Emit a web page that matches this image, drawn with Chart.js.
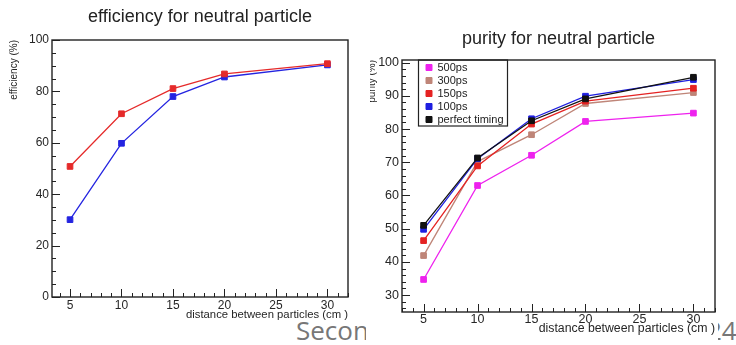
<!DOCTYPE html>
<html>
<head>
<meta charset="utf-8">
<script src="https://cdn.jsdelivr.net/npm/chart.js@4"></script>
<style>
  body { margin: 0; width: 736px; height: 345px; overflow: hidden; position: relative; background: #fff; }
  .slide { position: absolute; font-family: "Open Sans", sans-serif; font-size: 26px; line-height: 1; color: #777; z-index: 0; }
  #panel { position: absolute; left: 366px; top: 0; width: 352px; height: 345px; background: #fff; z-index: 1; }
  canvas { position: absolute; top: 0; z-index: 2; }
</style>
</head>
<body>
<div class="slide" style="left:296px; top:317px">Second</div>
<div class="slide" style="left:707px; top:317px">24</div>
<div id="panel"></div>
<canvas id="eff" width="370" height="345" style="left:0"></canvas>
<canvas id="pur" width="366" height="345" style="left:370px"></canvas>
<script>
// distance between particles (cm)
const distances = [5, 10, 15, 20, 30];

// efficiency (%)
const effRed = [50.8, 71.3, 81.1, 86.8, 90.8];
const effBlue = [30.1, 59.8, 78.0, 85.6, 90.3];

// purity (%)
const purityNames = ['500ps', '300ps', '150ps', '100ps', 'perfect timing'];
const pur500 = [34.7, 63.0, 72.1, 82.3, 84.8];
const pur300 = [41.9, 70.2, 78.3, 87.7, 91.0];
const pur150 = [46.4, 68.9, 81.5, 88.4, 92.3];
const pur100 = [49.8, 71.1, 83.1, 89.9, 94.9];
const purPerfect = [51.0, 71.3, 82.5, 89.1, 95.6];
const purityColors = ['#ee22ee', '#bf8578', '#e52222', '#1f1fe0', '#111111'];

const FONT = "'Liberation Sans', Arial, sans-serif";
const TXT = '#262626';

function points(ys) {
    return distances.map((x, i) => ({ x: x, y: ys[i] }));
}

function line(label, ys, color, order) {
    return {
        label: label,
        data: points(ys),
        borderColor: color,
        backgroundColor: color,
        borderWidth: 1.3,
        pointStyle: 'rect',
        pointRadius: 4,
        pointBorderWidth: 1,
        showLine: true,
        order: order
    };
}

// ROOT style frame with inward tick marks
const rootFrame = {
    id: 'rootFrame',
    beforeDatasetsDraw(chart, args, opts) {
        const { ctx, chartArea: a, scales: { x, y } } = chart;
        ctx.save();
        ctx.strokeStyle = '#222';
        ctx.lineWidth = 1;
        ctx.beginPath();
        for (let v = Math.ceil(x.min); v <= x.max; v += opts.xMinor) {
            const px = Math.round(x.getPixelForValue(v)) + 0.5;
            const len = v % opts.xMajor === 0 ? 8 : 4;
            ctx.moveTo(px, a.bottom);
            ctx.lineTo(px, a.bottom - len);
        }
        for (let v = Math.ceil(y.min / opts.yMinor) * opts.yMinor; v <= y.max; v += opts.yMinor) {
            const py = Math.round(y.getPixelForValue(v)) + 0.5;
            const len = v % opts.yMajor === 0 ? 8 : 4;
            ctx.moveTo(a.left, py);
            ctx.lineTo(a.left + len, py);
        }
        ctx.stroke();
        ctx.lineWidth = 1.4;
        ctx.strokeRect(a.left, a.top, a.right - a.left, a.bottom - a.top);
        ctx.restore();
    }
};

// legend box inside the purity plot
const legendBox = {
    id: 'legendBox',
    beforeDraw(chart) {
        if (!chart.legend) return;
        chart.legend.left = chart.chartArea.left + 22;
        chart.legend.top = chart.chartArea.top;
    },
    afterDraw(chart) {
        const { ctx, chartArea: a } = chart;
        ctx.save();
        ctx.strokeStyle = '#222';
        ctx.lineWidth = 1.2;
        ctx.strokeRect(a.left + 16.5, a.top, 89, 66);
        ctx.restore();
    }
};

function axes(o) {
    return {
        x: {
            type: 'linear', min: o.xMin, max: 32,
            ticks: { stepSize: 5, includeBounds: false, padding: o.xPad, color: TXT, font: { family: FONT, size: o.tickSize } },
            grid: { display: false, drawTicks: false, tickLength: 0 },
            border: { display: false },
            title: {
                display: true, text: 'distance between particles (cm )', align: 'end', color: TXT,
                font: { family: FONT, size: o.xTitleSize }, padding: { top: 0, bottom: o.xTitlePad }
            },
            afterFit: s => { s.height = 28; }
        },
        y: {
            type: 'linear', min: o.yMin, max: o.yMax,
            ticks: { stepSize: o.yStep, includeBounds: false, padding: 3, color: TXT, font: { family: FONT, size: o.tickSize } },
            grid: { display: false, drawTicks: false, tickLength: 0 },
            border: { display: false },
            title: {
                display: true, text: o.yTitle, align: 'end', color: TXT,
                font: { family: FONT, size: 10 }, padding: { top: o.yTitlePad, bottom: 0 }
            },
            afterFit: s => { s.width = o.yWidth; }
        }
    };
}

new Chart(document.getElementById('eff'), {
    type: 'scatter',
    data: {
        datasets: [
            line('red', effRed, '#e52a2a', 0),
            line('blue', effBlue, '#2424e0', 1)
        ]
    },
    options: {
        responsive: false,
        animation: false,
        devicePixelRatio: 1,
        layout: { padding: { left: 0, right: 22, top: 0, bottom: 20 } },
        scales: axes({ xMin: 3.25, xPad: 1, xTitlePad: 3.4, xTitleSize: 11.3, tickSize: 12,
                       yMin: 0, yMax: 100, yStep: 20,
                       yTitle: 'efficiency (%)', yTitlePad: 8.5, yWidth: 52 }),
        plugins: {
            legend: { display: false },
            tooltip: { enabled: false },
            title: {
                display: true, text: 'efficiency for neutral particle', fullSize: false, color: '#222',
                font: { family: FONT, size: 18, weight: 'normal' }, padding: { top: 6.7, bottom: 11.7 }
            },
            rootFrame: { xMinor: 1, xMajor: 5, yMinor: 5, yMajor: 20 }
        }
    },
    plugins: [rootFrame]
});

const purSeries = [pur500, pur300, pur150, pur100, purPerfect];

new Chart(document.getElementById('pur'), {
    type: 'scatter',
    data: {
        datasets: purSeries.map((ys, i) => line(purityNames[i], ys, purityColors[i], purSeries.length - 1 - i))
    },
    options: {
        responsive: false,
        animation: false,
        devicePixelRatio: 1,
        layout: { padding: { left: 0, right: 21, top: 0, bottom: 5 } },
        scales: axes({ xMin: 3.0, xPad: 0, xTitlePad: 4, xTitleSize: 12.3, tickSize: 12.5,
                       yMin: 24.9, yMax: 100.8, yStep: 10,
                       yTitle: 'purity (%)', yTitlePad: -4, yWidth: 32 }),
        plugins: {
            legend: {
                position: 'chartArea',
                align: 'start',
                labels: {
                    usePointStyle: true,
                    pointStyle: 'rect',
                    boxWidth: 6,
                    boxHeight: 6,
                    padding: 2,
                    color: '#222',
                    font: { family: FONT, size: 11 },
                    sort: (a, b) => a.datasetIndex - b.datasetIndex
                }
            },
            tooltip: { enabled: false },
            title: {
                display: true, text: 'purity for neutral particle', fullSize: false, color: '#222',
                font: { family: FONT, size: 18, weight: 'normal' }, padding: { top: 28.2, bottom: 10.2 }
            },
            rootFrame: { xMinor: 1, xMajor: 5, yMinor: 2, yMajor: 10 }
        }
    },
    plugins: [rootFrame, legendBox]
});
</script>
</body>
</html>
